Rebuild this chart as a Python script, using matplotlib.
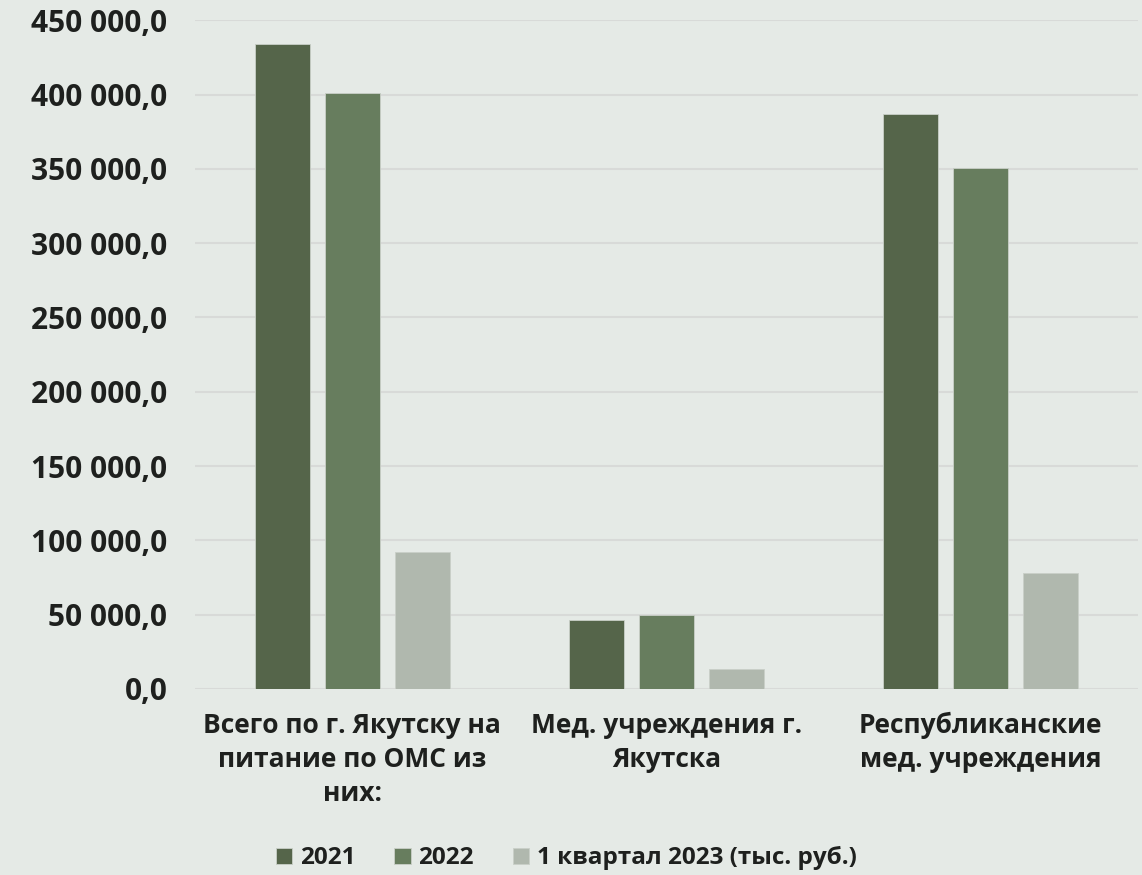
import matplotlib
matplotlib.use("Agg")
import matplotlib.pyplot as plt
import numpy as np

categories = ["Всего по г. Якутску на\nпитание по ОМС из\nних:",
              "Мед. учреждения г.\nЯкутска",
              "Республиканские\nмед. учреждения"]
series_names = ["2021", "2022", "1 квартал 2023 (тыс. руб.)"]
values_2021 = [434000, 46400, 387000]
values_2022 = [401000, 50000, 350600]
values_2023 = [92200, 13500, 78300]
y_ticks = [0, 50000, 100000, 150000, 200000, 250000, 300000, 350000, 400000, 450000]

colors = ["#55654A", "#677D5E", "#B0B8AE"]
bg = "#E5EAE6"
text_color = "#1E201E"

plt.rcParams['font.family'] = ['Open Sans', 'DejaVu Sans']

fig = plt.figure(figsize=(11.42, 8.75), dpi=100, facecolor=bg)
ax = fig.add_axes([0.1708, 0.2126, 0.8257, 0.7642])
ax.set_facecolor(bg)

x = np.arange(len(categories))
width = 0.175
offset = 0.2226
for i, (vals, c, name) in enumerate(zip([values_2021, values_2022, values_2023], colors, series_names)):
    ax.bar(x + (i - 1) * offset, vals, width=width, color=c, label=name,
           edgecolor="#C9CFC8", linewidth=0.6, zorder=3)

ax.set_xlim(-0.5, 2.5)
ax.set_ylim(0, 450000)
ax.set_yticks(y_ticks)
ax.set_yticklabels([f"{v:,.1f}".replace(",", " ").replace(".", ",") for v in y_ticks])
ax.yaxis.grid(True, color="#D8DAD8", linewidth=1.5, zorder=0)
ax.set_axisbelow(True)
for s in ax.spines.values():
    s.set_visible(False)
ax.tick_params(axis='y', length=0, pad=20, labelsize=21.5, labelcolor=text_color)
ax.tick_params(axis='x', length=0, pad=16.5, labelsize=19, labelcolor=text_color)
for lab in ax.get_yticklabels():
    lab.set_fontweight('bold')
ax.set_xticks(x)
ax.set_xticklabels(categories, fontweight='bold', linespacing=1.33)

leg = fig.legend(loc='center', bbox_to_anchor=(0.496, 0.019), ncol=3, frameon=False,
                 prop={'weight': 'bold', 'size': 17.5}, handlelength=0.66, handleheight=0.66,
                 handletextpad=0.33, columnspacing=1.6)
for t in leg.get_texts():
    t.set_color(text_color)

fig.savefig("out.png", dpi=100, facecolor=bg)
